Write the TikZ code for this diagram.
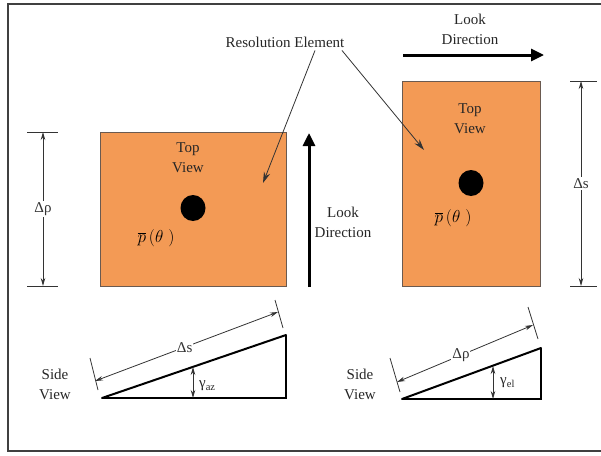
\documentclass[tikz,border=0pt]{standalone}
\usepackage{fontspec}
\setmainfont{Liberation Serif}
\usepackage{tikz}
\usetikzlibrary{arrows.meta,positioning,calc,shapes.geometric}
\definecolor{cellfill}{HTML}{F39A55}
\definecolor{cellline}{HTML}{6A5A50}
\definecolor{framec}{HTML}{404040}

\begin{document}
\begin{tikzpicture}[x=1pt,y=-1pt,
    viewbox/.style={rectangle, draw=cellline, fill=cellfill, line width=0.8pt,
                    inner sep=0pt},
    scatterer/.style={ellipse, fill=black, inner sep=0pt,
                      minimum width=25pt, minimum height=26pt},
    lbl/.style={font=\fontsize{15}{20}\selectfont, align=center, inner sep=1pt, text=black!85},
    mathlbl/.style={font=\fontsize{19}{22}\selectfont, inner sep=1pt},
    dimlbl/.style={font=\fontsize{15}{18}\selectfont, fill=white, inner sep=1pt},
    dimline/.style={line width=0.8pt, black!80,
                    {Stealth[length=8pt,width=4.5pt]}-{Stealth[length=8pt,width=4.5pt]}},
    dimtick/.style={line width=0.8pt, black!80},
    pointer/.style={line width=0.8pt, black!80, -{Stealth[length=11pt,width=6.5pt]}},
    lookarrow/.style={line width=3pt, -{Triangle[length=13pt,width=12pt]}},
    slope/.style={line width=2pt, line cap=round},
    ground/.style={line width=1.3pt},
]
\useasboundingbox (0,0) rectangle (601,455);
\draw[framec, line width=1.5pt] (8,4) rectangle (630,451);

\node[viewbox, minimum width=186pt, minimum height=154pt] (topaz) at (193,209) {};
\node[viewbox, minimum width=138pt, minimum height=205pt] (topel) at (471,183.5) {};

\node[lbl] (topvaz) at (188,158) {Top\\View};
\node[lbl] (topvel) at (470,119) {Top\\View};
\node[scatterer] (dotaz) at (193,208) {};
\node[scatterer] (dotel) at (471,183) {};
\node[mathlbl] (paz) at (156,238) {$\overline{p}\,(\theta\;)$};
\node[mathlbl] (pel) at (453,218) {$\overline{p}\,(\theta\;)$};

\node[lbl] (reselem) at (285,42) {Resolution Element};
\coordinate (hitaz) at (263,183);
\coordinate (hitel) at (424,150);
\draw[pointer] ($(reselem.south)+(30,2)$) -- (hitaz);
\draw[pointer] ($(reselem.south)+(57,2)$) -- (hitel);

\coordinate (lookazfoot) at (309,287);
\coordinate (lookaztip) at (309,133);
\draw[lookarrow] (lookazfoot) -- (lookaztip);
\node[lbl] (lookaz) at (343,222) {Look\\Direction};
\coordinate (lookelfoot) at (403,55);
\coordinate (lookeltip) at (544,55);
\draw[lookarrow] (lookelfoot) -- (lookeltip);
\node[lbl] (lookel) at (470,29) {Look\\Direction};

\draw[dimtick] (27,132) -- (58,132);
\draw[dimtick] (27,286) -- (58,286);
\coordinate (rhotop) at (43,132);
\coordinate (rhobot) at (43,286);
\draw[dimline] (rhotop) -- node[dimlbl] (drho) {Δρ} (rhobot);

\draw[dimtick] (570,81) -- (597,81);
\draw[dimtick] (570,286) -- (597,286);
\coordinate (stop) at (581,81);
\coordinate (sbot) at (581,286);
\draw[dimline] (stop) -- node[dimlbl] (ds) {Δs} (sbot);

\coordinate (azA) at (102,398);
\coordinate (azB) at (286,398);
\coordinate (azC) at (286,335);
\draw[ground] (azA) -- (azB) -- (azC);
\draw[slope] (azA) -- (azC);
\draw[dimtick] (90,358) -- (98,390);
\draw[dimtick] (275,300) -- (283,328);
\coordinate (azdim1) at (95,381);
\coordinate (azdim2) at (278,312);
\draw[dimline] (azdim1) -- node[dimlbl, pos=0.49] (dsaz) {Δs} (azdim2);
\coordinate (gazfoot) at (193,398);
\coordinate (gazhead) at (193,367);
\draw[dimline] (gazfoot) -- (gazhead);
\node[lbl, anchor=west] (gaz) at (198,386) {γ\textsubscript{az}};
\node[lbl] (sideaz) at (55,384) {Side\\View};

\coordinate (elA) at (402,399);
\coordinate (elB) at (541,399);
\coordinate (elC) at (541,348);
\draw[ground] (elA) -- (elB) -- (elC);
\draw[slope] (elA) -- (elC);
\draw[dimtick] (390,358) -- (400,392);
\draw[dimtick] (528,307) -- (538,339);
\coordinate (eldim1) at (397,382);
\coordinate (eldim2) at (533,325);
\draw[dimline] (eldim1) -- node[dimlbl, pos=0.47] (drhoel) {Δρ} (eldim2);
\coordinate (gelfoot) at (493,399);
\coordinate (gelhead) at (493,366);
\draw[dimline] (gelfoot) -- (gelhead);
\node[lbl, anchor=west] (gel) at (499,383) {γ\textsubscript{el}};
\node[lbl] (sideel) at (360,384) {Side\\View};

\end{tikzpicture}
\end{document}
